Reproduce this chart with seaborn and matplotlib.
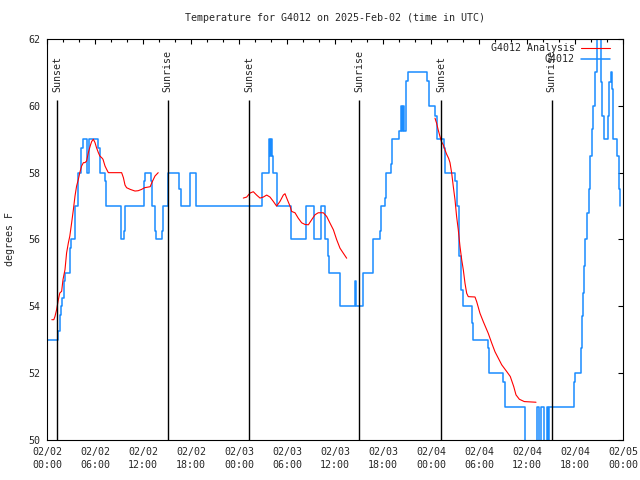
import pandas as pd
import matplotlib
matplotlib.use("Agg")
import matplotlib.pyplot as plt
import matplotlib.dates as mdates
from matplotlib.lines import Line2D
import seaborn as sns

# hours after 2025-02-02 00:00 UTC
start = pd.Timestamp("2025-02-02 00:00")

# station G4012 observations (step line)
blue_hours = [0, 1.4, 1.6, 1.75, 1.9, 2.1, 2.25, 2.85, 3.0, 3.5, 3.9, 4.3, 4.5, 4.95, 5.3,
              6.4, 6.6, 7.2, 7.35, 9.2, 9.3, 9.6, 9.7, 12.15, 12.25, 13.0, 13.15, 13.45, 13.6,
              14.35, 14.55, 15.15, 16.45, 16.7, 17.9, 18.6, 26.85, 27.7, 27.85, 28.0, 28.15,
              28.3, 28.7, 30.5, 32.4, 33.4, 34.2, 34.75, 35.1, 35.3, 36.6, 38.45, 38.65,
              39.45, 40.75, 41.6, 41.75, 42.3, 42.4, 43.0, 43.1, 44.05, 44.2, 44.35, 44.5,
              44.65, 44.9, 45.1, 47.55, 47.8, 48.5, 48.7, 49.6, 49.75, 51.05, 51.3,
              51.55, 51.75, 51.8, 52.0, 53.1, 53.3, 55.1, 55.3, 57.0, 57.25, 59.7, 61.3, 61.55,
              61.8, 62.1, 62.45, 62.66, 62.8, 65.85, 66.0, 66.7, 66.85, 67.0,
              67.15, 67.3, 67.55, 67.7, 67.9, 68.1, 68.3, 68.5, 68.8, 69.25, 69.4, 69.6, 70.1,
              70.2, 70.45, 70.6, 70.75, 71.3, 71.45, 71.6, 71.65]
blue_temps = [53, 53.25, 53.75, 54, 54.25, 54.75, 55, 55.75, 56, 57, 58, 58.75, 59, 58, 59,
              58.75, 58, 57.75, 57, 56.25, 56, 56.25, 57, 57.75, 58, 57.75, 57, 56.25, 56,
              56.25, 57, 58, 57.5, 57, 58, 57, 58, 59, 58.5, 59, 58.5,
              58, 57, 56, 57, 56, 57, 56, 55.5, 55, 54, 54.75, 54,
              55, 56, 56.25, 57, 57.25, 58, 58.25, 59, 59.25, 60, 59.25, 60,
              59.25, 60.75, 61, 60.75, 60, 59.7, 59, 58.75, 58, 57.75, 57,
              55.5, 55, 54.5, 54, 53.5, 53, 52.75, 52, 51.75, 51, 49.9, 51, 49.9,
              51, 49.9, 51, 49.9, 51, 51.75, 52, 52.75, 53.7, 54.4,
              55.2, 56, 56.8, 57.5, 58.5, 59.3, 60, 61, 62.5, 60.7, 59.7, 59, 59.7,
              60.7, 61, 60.5, 59, 58.5, 57.5, 57, 57]

# analysis series, three separate runs
red1_hours = [0.6, 0.85, 1.0, 1.2, 1.42, 1.6, 1.83, 2.0, 2.25, 2.45, 2.67, 2.85, 3.08, 3.3,
              3.5, 3.7, 3.92, 4.1, 4.33, 4.55, 4.75, 4.95, 5.17, 5.4, 5.58, 5.79, 6.0, 6.2,
              6.42, 6.6, 6.83, 7.0, 7.25, 7.45, 7.67, 8.08, 9.33, 9.55, 9.75, 9.95, 10.4,
              11.0, 11.4, 11.83, 12.2, 12.9, 13.1, 13.5, 13.9]
red1_temps = [53.6, 53.6, 53.7, 53.9, 54.2, 54.4, 54.45, 54.8, 55.1, 55.6, 55.9, 56.1, 56.5,
              56.9, 57.3, 57.6, 57.8, 58.0, 58.2, 58.3, 58.3, 58.35, 58.6, 58.8, 58.93, 59.0,
              58.9, 58.74, 58.6, 58.5, 58.45, 58.4, 58.2, 58.1, 58.0, 58.0, 58.0, 57.85,
              57.63, 57.55, 57.5, 57.45, 57.46, 57.5, 57.55, 57.58, 57.7, 57.9, 58.0]
red2_hours = [24.54, 24.96, 25.375, 25.79, 26.2, 26.625, 27.04, 27.46, 27.875, 28.29, 28.7,
              29.125, 29.54, 29.75, 29.96, 30.375, 30.58, 31.0, 31.4, 31.83, 32.25, 32.67,
              33.08, 33.5, 33.9, 34.54, 34.96, 35.375, 35.8, 36.2, 36.625, 37.04, 37.46]
red2_temps = [57.24, 57.27, 57.39, 57.43, 57.33, 57.24, 57.27, 57.33, 57.27, 57.14, 57.0,
              57.14, 57.33, 57.37, 57.24, 57.0, 56.84, 56.8, 56.64, 56.5, 56.45, 56.44,
              56.59, 56.74, 56.8, 56.8, 56.69, 56.49, 56.29, 56.0, 55.74, 55.59, 55.44]
red3_hours = [48.5, 48.7, 48.9, 49.125, 49.3, 49.54, 49.75, 49.96, 50.2, 50.375, 50.59,
              50.79, 51.0, 51.2, 51.41, 51.625, 51.84, 52.04, 52.25, 52.46, 52.66, 53.5,
              53.71, 54.125, 54.54, 55.16, 55.59, 56.0, 56.41, 56.84, 57.46, 57.91, 58.34,
              58.625, 59.04, 59.66, 61.125]
red3_temps = [59.63, 59.48, 59.28, 59.08, 58.93, 58.83, 58.68, 58.55, 58.43, 58.3, 57.98,
              57.58, 57.19, 56.69, 56.29, 55.79, 55.39, 55.09, 54.69, 54.39, 54.29, 54.28,
              54.14, 53.79, 53.54, 53.19, 52.9, 52.64, 52.45, 52.25, 52.05, 51.9, 51.6,
              51.35, 51.22, 51.15, 51.13]

sunset_hours = [1.28, 25.28, 49.28]
sunrise_hours = [15.1, 39.05, 63.08]

blue = "#1a8cff"
red = "#ff0000"

sns.set_style("white")
plt.rcParams["font.family"] = ["DejaVu Sans Mono"]
plt.rcParams["font.size"] = 7.2


def to_time(hours):
    return start + pd.to_timedelta(hours, unit="h")


fig = plt.figure(figsize=(6.4, 4.8), dpi=100)
ax = fig.add_axes([47 / 640, 40 / 480, 576 / 640, 401 / 480])

obs = pd.DataFrame({"time": to_time(blue_hours), "temp": blue_temps})
sns.lineplot(data=obs, x="time", y="temp", color=blue, lw=1.1, drawstyle="steps-post",
             estimator=None, sort=False, ax=ax)

for hrs, tmp in [(red1_hours, red1_temps), (red2_hours, red2_temps), (red3_hours, red3_temps)]:
    seg = pd.DataFrame({"time": to_time(hrs), "temp": tmp})
    sns.lineplot(data=seg, x="time", y="temp", color=red, lw=0.8,
                 estimator=None, sort=False, ax=ax)

for h in sunset_hours:
    t = to_time(h)
    ax.vlines(t, 50, 60.17, color="black", lw=1)
    ax.text(t, 60.42, "Sunset", rotation=90, ha="center", va="bottom")
for h in sunrise_hours:
    t = to_time(h)
    ax.vlines(t, 50, 60.17, color="black", lw=1)
    ax.text(t, 60.42, "Sunrise", rotation=90, ha="center", va="bottom")

ax.set_xlim(to_time(0), to_time(72))
ax.set_ylim(50, 62)
ax.set_yticks(range(50, 63, 2))
ax.xaxis.set_major_locator(mdates.HourLocator(byhour=range(0, 24, 6)))
ax.xaxis.set_minor_locator(mdates.HourLocator(byhour=range(0, 24, 2)))
ax.xaxis.set_major_formatter(mdates.DateFormatter("%m/%d\n%H:%M"))
ax.tick_params(which="both", direction="in", top=True, right=True, width=0.8, color="black")
ax.tick_params(which="major", length=3.6, pad=5)
ax.tick_params(which="minor", length=2.2)
plt.setp(ax.get_xticklabels(), linespacing=1.35)
for s in ax.spines.values():
    s.set_color("black")
    s.set_linewidth(0.8)

ax.set_xlabel("")
ax.set_ylabel("degrees F")
ax.yaxis.set_label_coords(-0.056, 0.5)
ax.set_title("Temperature for G4012 on 2025-Feb-02 (time in UTC)", fontsize=7.2, pad=13)

handles = [Line2D([], [], color=red, lw=0.8), Line2D([], [], color=blue, lw=1.1)]
ax.legend(handles, ["G4012 Analysis", "G4012"], loc="upper right",
          bbox_to_anchor=(0.977, 0.99), frameon=False, markerfirst=False,
          handlelength=2.9, handletextpad=0.6, labelspacing=0.1,
          borderpad=0, borderaxespad=0)

fig.savefig("out.png", dpi=100)
